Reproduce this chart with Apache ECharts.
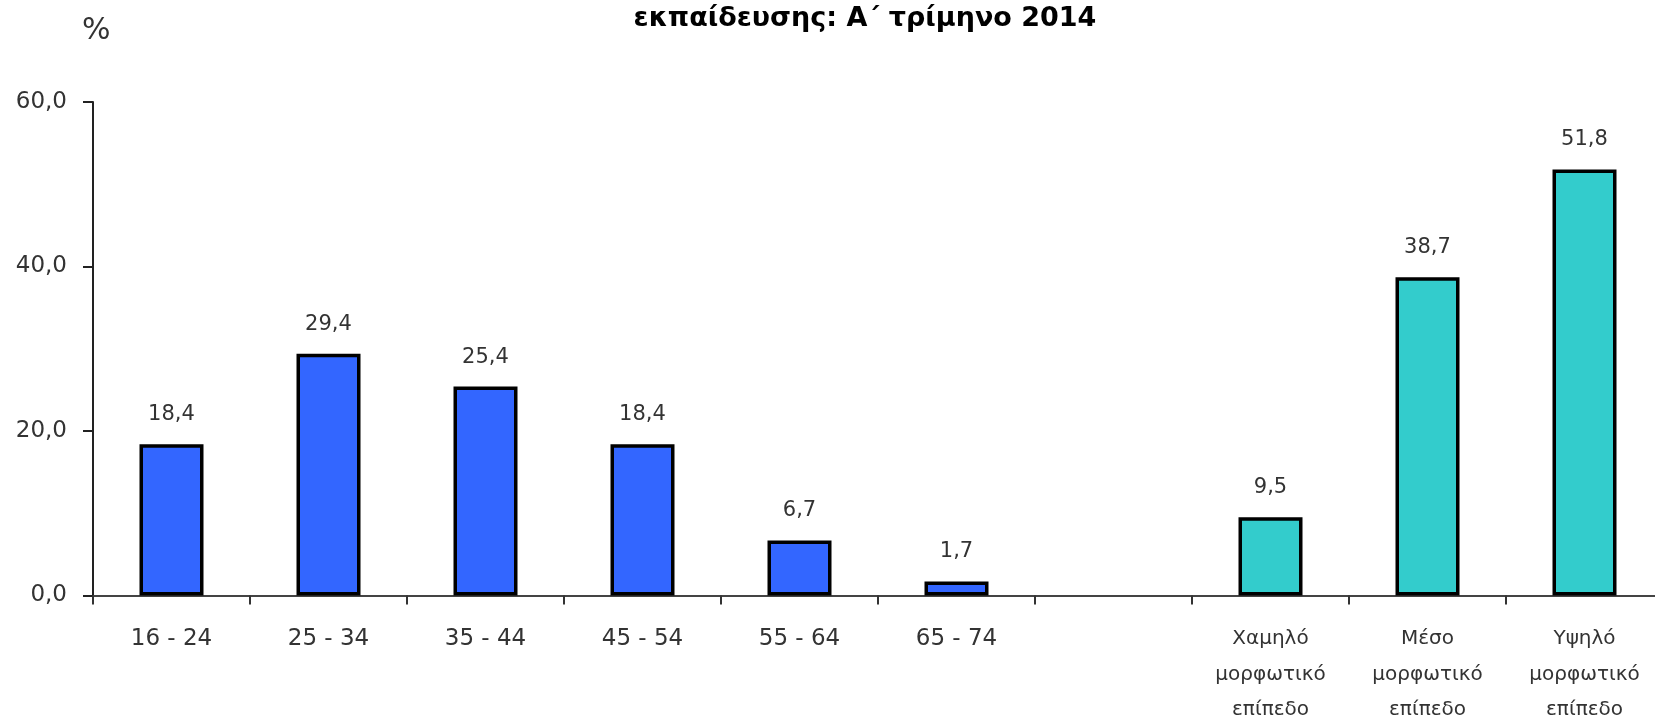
<!DOCTYPE html>
<html>
<head>
<meta charset="utf-8">
<script src="https://cdn.jsdelivr.net/npm/echarts@6/dist/echarts.min.js"></script>
<style>
html,body{margin:0;padding:0;background:#fff;}
#chart{width:1655px;height:717px;}
</style>
</head>
<body>
<div id="chart"></div>
<script>
const categories = ['16 - 24','25 - 34','35 - 44','45 - 54','55 - 64','65 - 74','',
  'Χαμηλό\nμορφωτικό\nεπίπεδο','Μέσο\nμορφωτικό\nεπίπεδο','Υψηλό\nμορφωτικό\nεπίπεδο'];
const ageValues = [18.4, 29.4, 25.4, 18.4, 6.7, 1.7];
const eduValues = [9.5, 38.7, 51.8];
const yTicks = [0, 20, 40, 60];
const titleText = 'εκπαίδευσης: Α΄ τρίμηνο 2014';
const unitText = '%';

const n = categories.length;
const ageData = categories.map((c, i) => i < ageValues.length ? ageValues[i] : '-');
const eduStart = n - eduValues.length;
const eduData = categories.map((c, i) => i >= eduStart ? eduValues[i - eduStart] : '-');

const FONT = 'DejaVu Sans';
const fmt = v => v.toFixed(1).replace('.', ',');

const labelCfg = {
  show: true, position: 'top', distance: 19,
  color: '#333', fontFamily: FONT, fontSize: 21,
  formatter: p => fmt(p.value)
};

const chart = echarts.init(document.getElementById('chart'), null, {renderer: 'canvas'});
chart.setOption({
  animation: false,
  backgroundColor: '#fff',
  title: {
    text: titleText, left: 860, top: 0, textAlign: 'center',
    textStyle: {fontFamily: FONT, fontWeight: 'bold', fontSize: 27, color: '#000'}
  },
  graphic: [{
    type: 'text', left: 82, top: 16,
    style: {text: unitText, fontFamily: FONT, fontSize: 30, fill: '#333'}
  }],
  grid: {left: 93, top: 102, width: 1570, height: 493.5, containLabel: false, outerBoundsMode: 'none'},
  xAxis: {
    type: 'category', data: categories, boundaryGap: true,
    axisLine: {lineStyle: {color: '#444', width: 2}},
    axisTick: {show: true, length: 9, lineStyle: {color: '#333', width: 2}},
    axisLabel: {
      interval: 0, margin: 26, color: '#333', fontFamily: FONT, lineHeight: 35.5,
      formatter: (v, i) => v.split('\n').map(l => (i < 6 ? '{a|' : '{b|') + l + '}').join('\n'),
      rich: {
        a: {fontFamily: FONT, fontSize: 23, color: '#333', lineHeight: 35.5},
        b: {fontFamily: FONT, fontSize: 20, color: '#333', lineHeight: 35.5}
      }
    }
  },
  yAxis: {
    type: 'value', min: yTicks[0], max: yTicks[yTicks.length - 1], interval: 20,
    splitLine: {show: false},
    axisLine: {show: true, lineStyle: {color: '#222', width: 2}},
    axisTick: {show: true, length: 10, lineStyle: {color: '#222', width: 2}},
    axisLabel: {margin: 26, color: '#333', fontFamily: FONT, fontSize: 23, formatter: v => fmt(v)}
  },
  series: [
    {
      type: 'bar', stack: 'all', data: ageData, barWidth: 64,
      itemStyle: {color: '#3366FF', borderColor: '#000', borderWidth: 3.5},
      label: labelCfg
    },
    {
      type: 'bar', stack: 'all', data: eduData, barWidth: 64,
      itemStyle: {color: '#33CCCC', borderColor: '#000', borderWidth: 3.5},
      label: labelCfg
    }
  ]
});
</script>
</body>
</html>
